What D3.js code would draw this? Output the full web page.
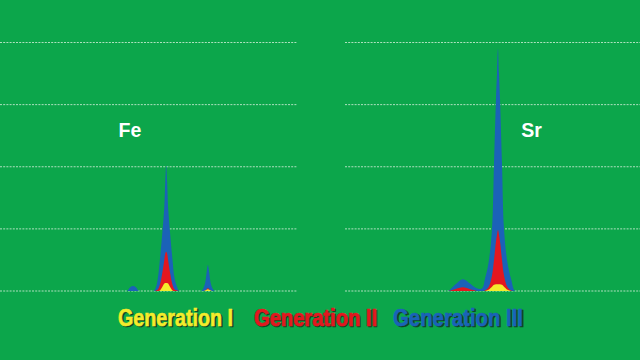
<!DOCTYPE html>
<html>
<head>
<meta charset="utf-8">
<script src="https://cdn.jsdelivr.net/npm/d3@7"></script>
<style>
  html, body { margin: 0; padding: 0; background: #0ca64b; }
  svg { display: block; }
</style>
</head>
<body>
<div id="chart"></div>
<script>
// XRF spectra, Fe and Sr regions, three detector generations (energy in keV)
const feEnergy = [3.77, 5.70, 5.78, 5.83, 5.875, 5.92, 5.97, 6.05,
  6.20, 6.24, 6.27, 6.30, 6.34, 6.37, 6.385, 6.40, 6.415, 6.43, 6.46, 6.50, 6.53, 6.57, 6.61,
  6.95, 6.99, 7.02, 7.04, 7.06, 7.08, 7.10, 7.13, 7.17, 7.25, 8.47];
const feGen1 = [0, 0, 0, 0, 0, 0, 0, 0,
  0, 0, 0, 0.01, 0.07, 0.12, 0.13, 0.13, 0.13, 0.12, 0.07, 0.01, 0, 0, 0,
  0, 0, 0.01, 0.02, 0.03, 0.02, 0.01, 0, 0, 0, 0];
const feGen2 = [0, 0, 0, 0, 0, 0, 0, 0,
  0, 0.01, 0.03, 0.1, 0.3, 0.5, 0.6, 0.63, 0.6, 0.5, 0.3, 0.1, 0.03, 0.01, 0,
  0, 0, 0.01, 0.03, 0.05, 0.03, 0.01, 0, 0, 0, 0];
const feGen3 = [0, 0, 0, 0.06, 0.08, 0.06, 0, 0,
  0, 0.07, 0.22, 0.5, 0.95, 1.35, 1.75, 2.02, 1.75, 1.35, 0.95, 0.5, 0.22, 0.07, 0,
  0, 0.05, 0.15, 0.3, 0.42, 0.3, 0.15, 0.05, 0, 0, 0];

const srEnergy = [11.10, 13.05, 13.16, 13.30, 13.46, 13.60, 13.72, 13.84,
  13.90, 13.97, 14.04, 14.08, 14.12, 14.14, 14.16, 14.18, 14.20, 14.24, 14.28, 14.35, 14.42, 14.50, 14.60, 17.0];
const srGen1 = [0, 0, 0, 0, 0, 0, 0, 0,
  0, 0.02, 0.07, 0.1, 0.11, 0.11, 0.11, 0.11, 0.11, 0.1, 0.07, 0.02, 0, 0, 0, 0];
const srGen2 = [0, 0, 0, 0.03, 0.06, 0.03, 0.005, 0,
  0.01, 0.06, 0.25, 0.5, 0.8, 0.9, 0.98, 0.9, 0.8, 0.5, 0.25, 0.06, 0.01, 0, 0, 0];
const srGen3 = [0, 0, 0, 0.1, 0.19, 0.12, 0.05, 0.04,
  0.2, 0.45, 1.0, 2.05, 3.1, 3.5, 3.9, 3.5, 3.1, 2.05, 1.0, 0.45, 0.2, 0, 0, 0];

const gridValues = [0, 1, 2, 3, 4];
const generations = ["Generation I", "Generation II", "Generation III"];
const genColors = ["#f4ec2c", "#e3171f", "#1b62b8"];

const width = 640, height = 360;
const svg = d3.select("#chart").append("svg")
  .attr("width", width)
  .attr("height", height);

svg.append("rect")
  .attr("width", width)
  .attr("height", height)
  .attr("fill", "#0ca64b");

const y = d3.scaleLinear().domain([0, 4]).range([291, 42.5]);

const panels = [
  { id: "fe", label: "Fe", energy: feEnergy, series: [feGen1, feGen2, feGen3],
    domain: [3.77, 8.47], range: [0, 297], labelX: 130 },
  { id: "sr", label: "Sr", energy: srEnergy, series: [srGen1, srGen2, srGen3],
    domain: [11.10, 17.0], range: [345, 640], labelX: 531.5 }
];

panels.forEach(p => {
  const x = d3.scaleLinear().domain(p.domain).range(p.range);
  const g = svg.append("g");

  // keep the smoothed curves above the baseline
  svg.append("clipPath")
    .attr("id", "clip-" + p.id)
    .append("rect")
    .attr("x", p.range[0])
    .attr("y", 0)
    .attr("width", p.range[1] - p.range[0])
    .attr("height", y(0));

  // dashed grid lines
  g.selectAll(".grid")
    .data(gridValues)
    .enter()
    .append("line")
    .attr("x1", p.range[0])
    .attr("x2", p.range[1])
    .attr("y1", d => y(d))
    .attr("y2", d => y(d))
    .attr("stroke", "#d8f0dc")
    .attr("stroke-width", 0.8)
    .attr("stroke-dasharray", "2,1.2");

  const area = d3.area()
    .x((d, i) => x(p.energy[i]))
    .y0(y(0))
    .y1(d => y(d))
    .curve(d3.curveCatmullRom.alpha(0.5));

  const peaks = g.append("g").attr("clip-path", `url(#clip-${p.id})`);

  // draw Gen III behind, Gen I in front
  [2, 1, 0].forEach(k => {
    peaks.append("path")
      .datum(p.series[k])
      .attr("d", area)
      .attr("fill", genColors[k]);
  });

  g.append("text")
    .attr("x", p.labelX)
    .attr("y", 137)
    .attr("text-anchor", "middle")
    .style("font-family", "'Liberation Sans', Arial, sans-serif")
    .style("font-weight", "bold")
    .style("font-size", "19.5px")
    .style("fill", "#ffffff")
    .text(p.label);
});

// legend
const legendX = [118, 254, 393];
const legendW = [115, 123, 130];
const legend = svg.append("g");
generations.forEach((name, i) => {
  [["#10301a", 1.4, 1.4, 0.85], [genColors[i], 0, 0, 1]].forEach(([c, dx, dy, op]) => {
    legend.append("text")
      .attr("x", legendX[i] + dx)
      .attr("y", 326 + dy)
      .attr("textLength", legendW[i])
      .attr("lengthAdjust", "spacingAndGlyphs")
      .style("font-family", "'Liberation Sans Narrow', 'Liberation Sans', Arial, sans-serif")
      .style("font-weight", "bold")
      .style("font-size", "24px")
      .style("fill", c)
      .style("stroke", c)
      .style("stroke-width", 0.7)
      .style("opacity", op)
      .text(name);
  });
});
</script>
</body>
</html>
